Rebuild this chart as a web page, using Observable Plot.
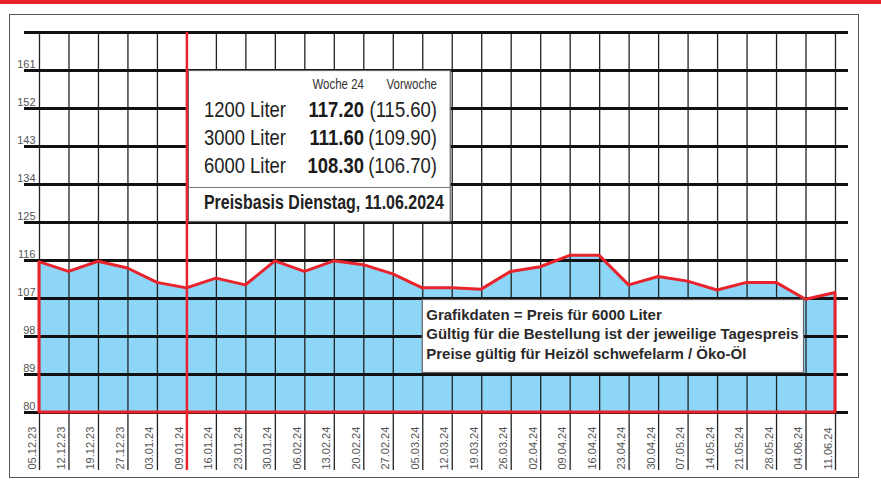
<!DOCTYPE html>
<html>
<head>
<meta charset="utf-8">
<script src="https://cdn.jsdelivr.net/npm/d3@7"></script>
<script src="https://cdn.jsdelivr.net/npm/@observablehq/plot@0.6"></script>
<style>
  html, body { margin: 0; padding: 0; background: #fff; }
  #wrap { position: relative; width: 881px; height: 480px; overflow: hidden; }
  #topbar { position: absolute; left: 0; top: 0; width: 881px; height: 4px; background: #e8232b; }
  #frame { position: absolute; left: 9px; top: 14px; width: 848px; height: 462px; border: 1.5px solid #555; }
  #chart { position: absolute; left: 0; top: 0; }
</style>
</head>
<body>
<div id="wrap">
  <div id="topbar"></div>
  <div id="frame"></div>
  <div id="chart"></div>
</div>
<script>
// ---- data ----
const dates = ["05.12.23","12.12.23","19.12.23","27.12.23","03.01.24","09.01.24","16.01.24","23.01.24",
  "30.01.24","06.02.24","13.02.24","20.02.24","27.02.24","05.03.24","12.03.24","19.03.24","26.03.24",
  "02.04.24","09.04.24","16.04.24","23.04.24","30.04.24","07.05.24","14.05.24","21.05.24","28.05.24",
  "04.06.24","11.06.24"];
const prices = [115.6,113.3,115.7,114.1,110.7,109.4,111.7,110.1,115.8,113.3,115.8,114.9,112.7,109.4,
  109.4,109.1,113.3,114.4,117.1,117.1,110.1,112.1,111.0,108.9,110.7,110.7,106.7,108.3];
const yGrid = [80,89,98,107,116,125,134,143,152,161,170];
const yLabels = [80,89,98,107,116,125,134,143,152,161];
const markerDate = "09.01.24";

// info box
const infoHeader = ["Woche 24","Vorwoche"];
const infoLabels = ["1200 Liter","3000 Liter","6000 Liter"];
const infoNow = ["117.20","111.60","108.30"];
const infoPrev = ["(115.60)","(109.90)","(106.70)"];
const infoFoot = "Preisbasis Dienstag, 11.06.2024";
const infoBoxDates = ["09.01.24","12.03.24"];
const infoBoxRange = [125,161];

// note box
const noteLines = ["Grafikdaten = Preis für 6000 Liter",
  "Gültig für die Bestellung ist der jeweilige Tagespreis",
  "Preise gültig für Heizöl schwefelarm / Öko-Öl"];
const noteBoxDates = ["05.03.24","04.06.24"];
const noteBoxRange = [89,107];

// ---- build ----
const data = dates.map((d,i) => ({i, date: d, v: prices[i]}));
const idx = dates.map((d,i) => i);
const base = yGrid[0];
const RED = "#e8232b";
const sans = "'Liberation Sans', Arial, Helvetica, sans-serif";
const ai = dates.indexOf(infoBoxDates[0]), bi = dates.indexOf(infoBoxDates[1]);
const ni = dates.indexOf(noteBoxDates[0]), nj = dates.indexOf(noteBoxDates[1]);
const mi = dates.indexOf(markerDate);
const boxTop = infoBoxRange[1];
const NARROW = {ariaDescription: "narrow"};

const rowDy = [46, 74, 102];
const rowMarks = infoLabels.flatMap((lab, k) => [
  Plot.text([lab], {x: ai, y: boxTop, text: d => d, textAnchor: "start", lineAnchor: "bottom",
    dx: 17, dy: rowDy[k], fontSize: 22.5, fill: "#222", ...NARROW}),
  Plot.text([infoNow[k]], {x: ai, y: boxTop, text: d => d, textAnchor: "end", lineAnchor: "bottom",
    dx: 177, dy: rowDy[k], fontSize: 22.5, fontWeight: "bold", fill: "#1a1a1a", ...NARROW}),
  Plot.text([infoPrev[k]], {x: ai, y: boxTop, text: d => d, textAnchor: "end", lineAnchor: "bottom",
    dx: 250, dy: rowDy[k], fontSize: 22.5, fill: "#222", ...NARROW})
]);
const noteMarks = noteLines.map((line, k) =>
  Plot.text([line], {x: ni, y: noteBoxRange[1], text: d => d, textAnchor: "start", lineAnchor: "bottom",
    dx: 3.5, dy: 21 + k * 19.7, fontSize: 15, fontWeight: "bold", fill: "#2a2a2a"})
);

const chart = Plot.plot({
  width: 881, height: 480,
  marginLeft: 39, marginRight: 46, marginTop: 32, marginBottom: 68,
  x: {domain: [0, dates.length - 1], axis: null},
  y: {domain: [yGrid[0], yGrid[yGrid.length-1]], axis: null},
  style: {background: "transparent", fontFamily: sans},
  marks: [
    Plot.area(data, {x1: "i", y1: base, y2: "v", fill: "#8dd6f7"}),
    Plot.ruleX(idx, {x: d => d, stroke: "#222", strokeWidth: 1.3, insetBottom: -58}),
    Plot.ruleY(yGrid, {stroke: "#111", strokeWidth: 2.8, insetLeft: -15, insetRight: -13}),
    Plot.area(data, {x1: "i", y1: base, y2: "v", fill: "none", stroke: RED, strokeWidth: 3, strokeLinejoin: "round"}),
    // y labels
    Plot.text(yLabels, {x: 0, y: d => d, text: d => String(d), textAnchor: "end", lineAnchor: "bottom",
      dx: -4, dy: -3, fontSize: 11, fill: "#555"}),
    // x labels
    Plot.text(idx, {x: d => d, text: d => dates[d], frameAnchor: "bottom", rotate: -90, textAnchor: "start",
      lineAnchor: "middle", dy: 57, dx: -7.5, fontSize: 11, fill: "#555"}),
    // info box
    Plot.rect([0], {x1: ai, x2: bi, y1: infoBoxRange[0], y2: infoBoxRange[1], fill: "#fff", stroke: "#666",
      strokeWidth: 1.2, insetLeft: 2, insetRight: 1.5, insetTop: 0.5, insetBottom: 0.5}),
    Plot.ruleY([boxTop], {x1: ai, x2: bi, dy: 117, stroke: "#777", strokeWidth: 1.2, insetLeft: 2, insetRight: 1.5}),
    Plot.text([infoHeader[0]], {x: ai, y: boxTop, text: d => d, textAnchor: "end", lineAnchor: "bottom",
      dx: 177, dy: 18, fontSize: 14, fill: "#333", ...NARROW}),
    Plot.text([infoHeader[1]], {x: ai, y: boxTop, text: d => d, textAnchor: "end", lineAnchor: "bottom",
      dx: 250, dy: 18, fontSize: 14, fill: "#333", ...NARROW}),
    ...rowMarks,
    Plot.text([infoFoot], {x: ai, y: boxTop, text: d => d, textAnchor: "start", lineAnchor: "bottom",
      dx: 17, dy: 138, fontSize: 19.5, fontWeight: "bold", fill: "#222", ...NARROW}),
    // note box
    Plot.rect([0], {x1: ni, x2: nj, y1: noteBoxRange[0], y2: noteBoxRange[1], fill: "#fff", stroke: "#666",
      strokeWidth: 1.2, insetLeft: 0, insetRight: 2, insetTop: 1.5, insetBottom: 1.5}),
    ...noteMarks,
    // marker line
    Plot.ruleX([mi], {x: d => d, stroke: RED, strokeWidth: 2.5, insetBottom: -58})
  ]
});
document.getElementById("chart").appendChild(chart);

// condense the narrow-font texts horizontally (Arial Narrow ≈ 82% width)
d3.select(chart).selectAll('g[aria-description="narrow"] text').each(function() {
  const el = d3.select(this);
  const t = el.attr("transform");
  if (t) {
    el.attr("transform", t + " scale(0.82,1)");
  } else {
    const x = +el.attr("x") || 0, y = +el.attr("y") || 0;
    el.attr("x", null).attr("y", null).attr("transform", `translate(${x},${y}) scale(0.82,1)`);
  }
});
</script>
</body>
</html>
